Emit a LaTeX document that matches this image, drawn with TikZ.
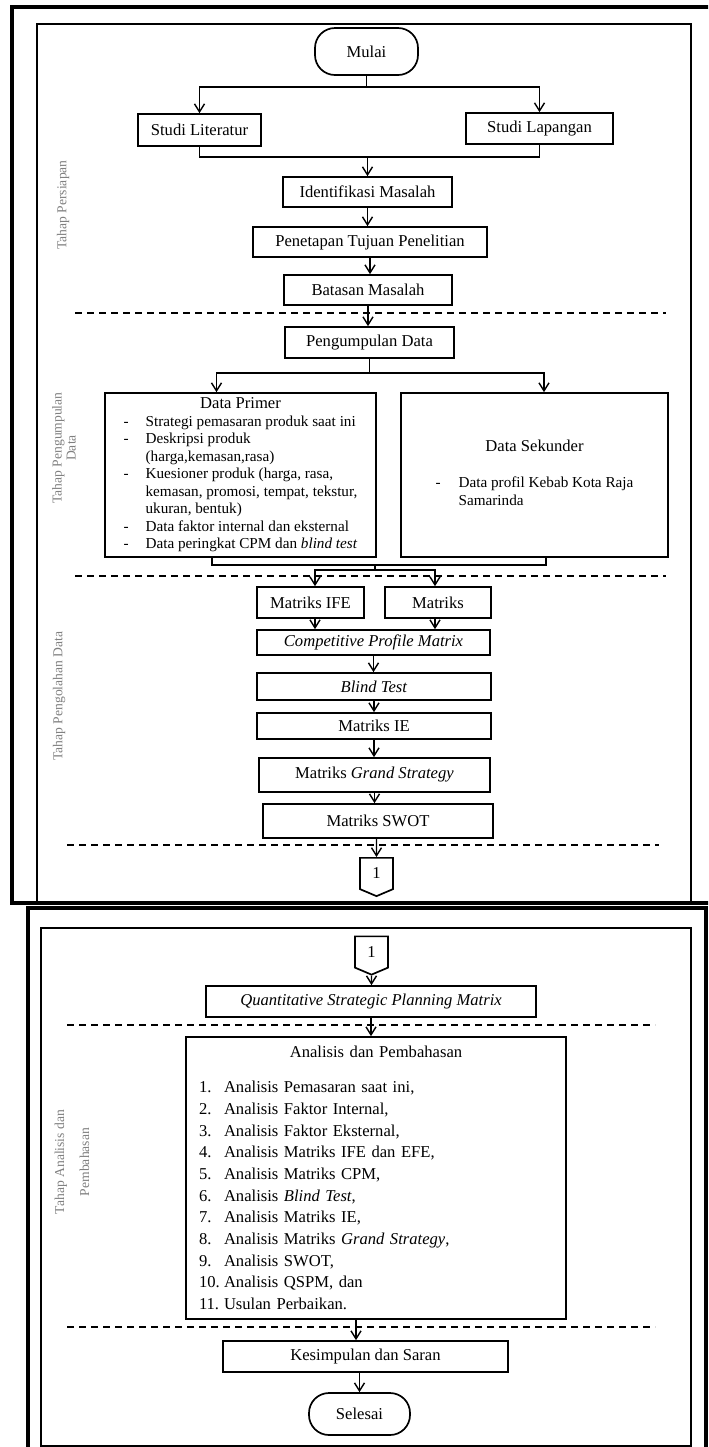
\documentclass[tikz,border=0pt]{standalone}
\usepackage{fontspec}
\setmainfont{Liberation Serif}
\usepackage{tikz}
\usetikzlibrary{arrows.meta, shapes.symbols}

\begin{document}
\begin{tikzpicture}[x=0.5pt, y=-0.5pt,
    font=\fontsize{8.3}{10}\selectfont,
    box/.style={draw, line width=0.85pt, inner sep=0pt},
    term/.style={box, rounded corners=10pt},
    conn/.style={draw, line width=0.85pt, signal, signal to=south, signal pointer angle=134, minimum width=16.5pt, minimum height=16.5pt, inner sep=0pt},
    arr/.style={line width=0.7pt, -{Straight Barb[length=4pt,width=5pt]}},
    ln/.style={line width=0.7pt},
    sep/.style={line width=0.6pt, dash pattern=on 3.5pt off 2.5pt},
    stage/.style={rotate=90, text=gray, font=\fontsize{6.8}{7}\selectfont, align=center}]

    \clip (0,0) rectangle (708,1447);
    \fill[white] (0,0) rectangle (708,1447);

    \draw[line width=1.6pt] (12,7) rectangle (720,903);
    \draw[line width=0.7pt] (37,24) rectangle (691,903);
    \draw[line width=1.6pt] (28,908) rectangle (706,1460);
    \draw[line width=0.7pt] (41,928) rectangle (691,1446);

    \node[stage] (st1) at (63,205) {Tahap Persiapan};
    \node[stage] (st2) at (64,448) {Tahap Pengumpulan\\Data};
    \node[stage] (st3) at (59,696) {Tahap Pengolahan Data};
    \node[stage, font=\fontsize{6.8}{12.5}\selectfont] (st4) at (72,1162) {Tahap Analisis dan\\Pembahasan};

    \draw[sep] (75,313) -- (666,313);
    \draw[sep] (75,576) -- (666,576);
    \draw[sep] (67,845) -- (659,845);
    \draw[sep] (67,1025) -- (655,1025);
    \draw[sep] (67,1327) -- (655,1327);

    \node[term, minimum width=51.5pt, minimum height=23.5pt] (mulai) at (366.5,51.5) {Mulai};
    \node[box, minimum width=61.5pt, minimum height=16pt] (lit) at (199.5,130) {Studi Literatur};
    \node[box, minimum width=73.5pt, minimum height=15.5pt] (lap) at (539.5,128.5) {Studi Lapangan};
    \node[box, minimum width=84.5pt, minimum height=15pt] (idm) at (367.5,192) {Identifikasi Masalah};
    \node[box, minimum width=117pt, minimum height=15pt] (tuj) at (370,242) {Penetapan Tujuan Penelitian};
    \node[box, minimum width=84pt, minimum height=15pt] (bat) at (368,290) {Batasan Masalah};
    \node[box, minimum width=84.5pt, minimum height=15.5pt] (kumpul) at (369.5,342.5) {Pengumpulan Data};
    \node[box, minimum width=135.5pt, minimum height=82pt, font=\fontsize{7.6}{8.75}\selectfont] (primer) at (240.5,475) {%
        \begin{tabular}{@{}l@{}}
        \multicolumn{1}{@{}c@{}}{\fontsize{8.3}{8.75}\selectfont Data Primer}\\
        \makebox[11pt][l]{-}Strategi pemasaran produk saat ini\\
        \makebox[11pt][l]{-}Deskripsi produk\\
        \hspace*{11pt}(harga,kemasan,rasa)\\
        \makebox[11pt][l]{-}Kuesioner produk (harga, rasa,\\
        \hspace*{11pt}kemasan, promosi, tempat, tekstur,\\
        \hspace*{11pt}ukuran, bentuk)\\
        \makebox[11pt][l]{-}Data faktor internal dan eksternal\\
        \makebox[11pt][l]{-}Data peringkat CPM dan \textit{blind test}
        \end{tabular}};
    \node[box, minimum width=133.5pt, minimum height=82pt, align=center, font=\fontsize{7.6}{8.75}\selectfont] (sekunder) at (534.5,475) {%
        {\fontsize{8.3}{8.75}\selectfont Data Sekunder}\\[9.5pt]
        \begin{tabular}[t]{@{}l@{}}
        \makebox[11.5pt][l]{-}Data profil Kebab Kota Raja\\
        \hspace*{11.5pt}Samarinda
        \end{tabular}};
    \node[box, minimum width=53.5pt, minimum height=15.5pt] (ife) at (310.5,602.5) {Matriks IFE};
    \node[box, minimum width=53pt, minimum height=15.5pt] (efe) at (438,602.5) {Matriks};
    \node[box, minimum width=116.5pt, minimum height=12.5pt] (cpm) at (373.5,642.5) {\textit{Competitive Profile Matrix}};
    \node[box, minimum width=117pt, minimum height=13.5pt] (blind) at (374,686.5) {\textit{Blind Test}};
    \node[box, minimum width=117pt, minimum height=13pt] (ie) at (374,726) {Matriks IE};
    \node[box, minimum width=115.5pt, minimum height=17pt] (grand) at (374.5,775) {Matriks \textit{Grand Strategy}};
    \node[box, minimum width=115pt, minimum height=17pt] (swot) at (378,821) {Matriks SWOT};
    \node[conn] (con1) at (376.5,873.5) {1};

    \node[conn] (con2) at (371.5,952) {1};
    \node[box, minimum width=165pt, minimum height=15.5pt] (qspm) at (371,1001.5) {\textit{Quantitative Strategic Planning Matrix}};
    \node[box, minimum width=190pt, minimum height=141pt, text width=177pt, align=left, font=\fontsize{8.3}{10.85}\selectfont] (analisis) at (376,1178) {%
        \makebox[\linewidth]{Analisis dan Pembahasan}\\[6.65pt]
        \makebox[12.5pt][l]{1.}Analisis Pemasaran saat ini,\\
        \makebox[12.5pt][l]{2.}Analisis Faktor Internal,\\
        \makebox[12.5pt][l]{3.}Analisis Faktor Eksternal,\\
        \makebox[12.5pt][l]{4.}Analisis Matriks IFE dan EFE,\\
        \makebox[12.5pt][l]{5.}Analisis Matriks CPM,\\
        \makebox[12.5pt][l]{6.}Analisis \textit{Blind Test},\\
        \makebox[12.5pt][l]{7.}Analisis Matriks IE,\\
        \makebox[12.5pt][l]{8.}Analisis Matriks \textit{Grand Strategy},\\
        \makebox[12.5pt][l]{9.}Analisis SWOT,\\
        \makebox[12.5pt][l]{10.}Analisis QSPM, dan\\
        \makebox[12.5pt][l]{11.}Usulan Perbaikan.};
    \node[box, minimum width=142.5pt, minimum height=15.5pt] (simpul) at (365.5,1356.5) {Kesimpulan dan Saran};
    \node[term, minimum width=50.5pt, minimum height=21pt] (selesai) at (359.5,1414) {Selesai};

    \coordinate (b1) at (366.5,87);
    \draw[ln] (mulai) -- (b1);
    \draw[arr] (b1) -| (lit);
    \draw[arr] (b1) -| (lap);
    \coordinate (j1) at (367.5,157);
    \draw[ln] (lit) |- (j1);
    \draw[ln] (lap) |- (j1);
    \draw[arr] (j1) -- (idm);
    \draw[arr] (idm) -- (idm |- tuj.north);
    \draw[arr] (tuj) -- (tuj |- bat.north);
    \draw[arr] (bat) -- (bat |- kumpul.north);

    \coordinate (b2) at (369.5,373);
    \draw[ln] (kumpul) -- (b2);
    \draw[arr] (b2) -| ([xshift=-12pt]primer.north);
    \draw[arr] (b2) -| ([xshift=4.75pt]sekunder.north);
    \coordinate (j2) at (375,565);
    \coordinate (b3) at (375,570);
    \draw[ln] ([xshift=-14.25pt]primer.south) |- (j2);
    \draw[ln] ([xshift=5.75pt]sekunder.south) |- (j2);
    \draw[ln] (j2) -- (b3);
    \draw[arr] (b3) -| ([xshift=2.25pt]ife.north);
    \draw[arr] (b3) -| ([xshift=-1.5pt]efe.north);
    \draw[arr] ([xshift=2.25pt]ife.south) -- ([xshift=2.25pt]ife.south |- cpm.north);
    \draw[arr] ([xshift=-1.5pt]efe.south) -- ([xshift=-1.5pt]efe.south |- cpm.north);
    \draw[arr] (cpm) -- (cpm |- blind.north);
    \draw[arr] (blind) -- (blind |- ie.north);
    \draw[arr] (ie) -- (ie |- grand.north);
    \draw[arr] (grand) -- (grand |- swot.north);
    \draw[arr] (con1 |- swot.south) -- (con1);

    \draw[arr] (con2) -- (con2 |- qspm.north);
    \draw[arr] (qspm) -- (qspm |- analisis.north);
    \draw[arr] ([xshift=-10pt]analisis.south) -- ([xshift=-10pt]analisis.south |- simpul.north);
    \draw[arr] (selesai |- simpul.south) -- (selesai);
\end{tikzpicture}
\end{document}
